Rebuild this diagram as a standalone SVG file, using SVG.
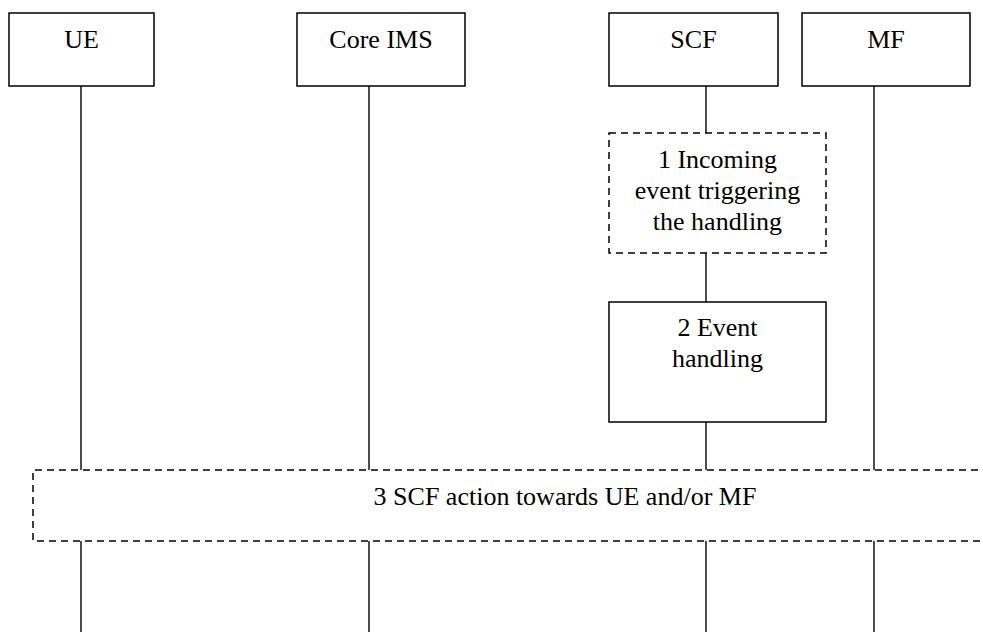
<svg xmlns="http://www.w3.org/2000/svg" width="983" height="632" viewBox="0 0 983 632">
<style>
.box{fill:#fff;stroke:#000;stroke-width:1.5}
.dbox{fill:#fff;stroke:#000;stroke-width:1.5;stroke-dasharray:7 5}
.life{stroke:#000;stroke-width:1.4;fill:none}
.t{font-family:'Liberation Serif','Times New Roman','DejaVu Serif',serif;font-size:26px;fill:#000;text-anchor:middle}
</style>
<rect width="983" height="632" fill="#fff"/>
<g id="connectors">
<line class="life" x1="81" y1="86" x2="81" y2="632"/>
<line class="life" x1="369" y1="86" x2="369" y2="632"/>
<line class="life" x1="706" y1="86" x2="706" y2="632"/>
<line class="life" x1="874" y1="86" x2="874" y2="632"/>
</g>
<g id="ue"><rect class="box" x="9" y="13" width="145" height="73"/><text class="t" font-family="Liberation Serif, serif" x="81.5" y="48">UE</text></g>
<g id="core-ims"><rect class="box" x="297" y="13" width="168" height="73"/><text class="t" font-family="Liberation Serif, serif" x="381" y="48">Core IMS</text></g>
<g id="scf"><rect class="box" x="609" y="13" width="169" height="73"/><text class="t" font-family="Liberation Serif, serif" x="693.5" y="48">SCF</text></g>
<g id="mf"><rect class="box" x="802" y="13" width="168" height="73"/><text class="t" font-family="Liberation Serif, serif" x="886" y="48">MF</text></g>
<g id="step1"><rect class="dbox" x="609" y="133" width="217" height="120"/>
<text class="t" font-family="Liberation Serif, serif" x="717.5" y="168">1 Incoming</text><text class="t" font-family="Liberation Serif, serif" x="717.5" y="199">event triggering</text><text class="t" font-family="Liberation Serif, serif" x="717.5" y="230">the handling</text></g>
<g id="step2"><rect class="box" x="609" y="302" width="217" height="120"/>
<text class="t" font-family="Liberation Serif, serif" x="717.5" y="336">2 Event</text><text class="t" font-family="Liberation Serif, serif" x="717.5" y="367">handling</text></g>
<g id="step3"><path class="dbox" d="M990 470 H33 V541 H990"/>
<text class="t" font-family="Liberation Serif, serif" x="565" y="505">3 SCF action towards UE and/or MF</text></g>
</svg>
